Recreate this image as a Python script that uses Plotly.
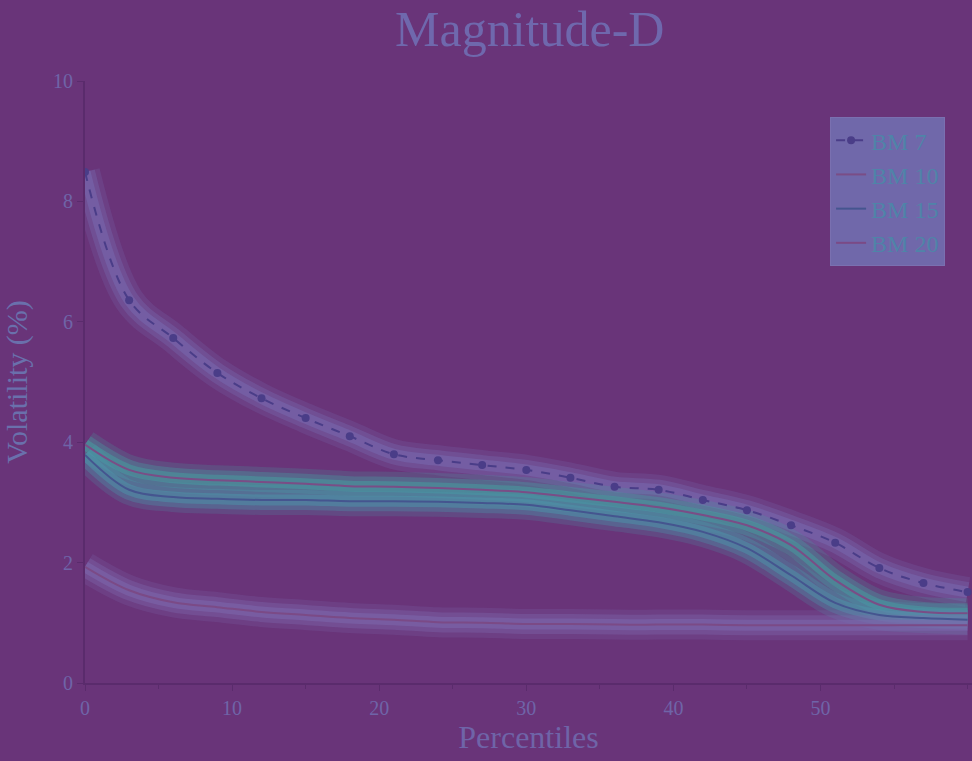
import plotly.graph_objects as go

# ---- data ----
x_vals = [0, 3, 6, 9, 12, 15, 18, 21, 24, 27, 30, 33, 36, 39, 42, 45, 48, 51, 54, 57, 60]
series_names = ["BM 7", "BM 10", "BM 15", "BM 20"]
s1 = [8.49, 6.36, 5.73, 5.15, 4.73, 4.40, 4.10, 3.80, 3.70, 3.62, 3.54, 3.41, 3.26, 3.21, 3.04, 2.87, 2.62, 2.33, 1.91, 1.66, 1.51]
s2 = [3.96, 3.54, 3.41, 3.37, 3.34, 3.31, 3.27, 3.26, 3.24, 3.21, 3.17, 3.09, 3.01, 2.92, 2.79, 2.62, 2.29, 1.71, 1.30, 1.18, 1.16]
s3 = [3.79, 3.21, 3.09, 3.06, 3.04, 3.04, 3.02, 3.02, 3.01, 2.99, 2.96, 2.87, 2.77, 2.67, 2.51, 2.24, 1.79, 1.33, 1.13, 1.08, 1.05]
s4 = [1.93, 1.54, 1.34, 1.26, 1.18, 1.13, 1.08, 1.05, 1.01, 1.00, 0.98, 0.98, 0.97, 0.97, 0.97, 0.96, 0.96, 0.96, 0.96, 0.96, 0.96]
x_ticks = [0, 10, 20, 30, 40, 50]
y_ticks = [0, 2, 4, 6, 8, 10]

BG = "#693479"
halo_cols = ["rgba(120,108,178,{a})", "rgba(70,160,160,{a})", "rgba(75,150,170,{a})", "rgba(125,105,175,{a})"]
core_cols = ["#4a3d88", "#7a4d86", "#45558f", "#7b4a86"]
all_series = [s1, s2, s3, s4]

fig = go.Figure()
# soft halos (no legend)
for ys, hc in zip(all_series, halo_cols):
    for w, a in [(30, 0.22), (20, 0.35), (11, 0.5)]:
        fig.add_trace(go.Scatter(x=x_vals, y=ys, mode="lines", line=dict(color=hc.format(a=a), width=w, shape="spline"),
                                 showlegend=False, hoverinfo="skip"))
# core lines
for i, (ys, name, cc) in enumerate(zip(all_series, series_names, core_cols)):
    if i == 0:
        fig.add_trace(go.Scatter(x=x_vals, y=ys, name=name, mode="lines+markers",
                                 line=dict(color=cc, width=2, dash="dash", shape="spline"),
                                 marker=dict(color=cc, size=8)))
    else:
        fig.add_trace(go.Scatter(x=x_vals, y=ys, name=name, mode="lines",
                                 line=dict(color=cc, width=2, shape="spline")))

axis_font = dict(family="Liberation Serif", size=20, color="#6f64a8")
fig.update_layout(
    width=972, height=761,
    paper_bgcolor=BG, plot_bgcolor=BG,
    margin=dict(l=85, r=0, t=81, b=78, autoexpand=False),
    title=dict(text="Magnitude-D", x=0.545, xanchor="center", y=0.962, yanchor="middle",
               font=dict(family="Liberation Serif", size=50, color="#6f68ad")),
    xaxis=dict(range=[0, 60.3], tickvals=x_ticks, showgrid=False, zeroline=False,
               showline=True, linecolor="#5a2b6c", linewidth=2, ticks="outside", tickcolor="#5a2b6c",
               ticklen=6, minor=dict(ticks="outside", dtick=5, ticklen=4, tickcolor="#5a2b6c"),
               tickfont=axis_font,
               title=dict(text="Percentiles", font=dict(family="Liberation Serif", size=32, color="#6f64a8"), standoff=8)),
    yaxis=dict(range=[0, 10], tickvals=y_ticks, showgrid=False, zeroline=False,
               showline=True, linecolor="#5a2b6c", linewidth=2, ticks="outside", tickcolor="#5a2b6c",
               ticklen=6, tickfont=axis_font,
               title=dict(text="Volatility (%)", font=dict(family="Liberation Serif", size=30, color="#6a70ac"), standoff=18)),
    legend=dict(x=0.84, y=0.94, xanchor="left", yanchor="top",
                bgcolor="#7068aa", bordercolor="#7a70b0", borderwidth=1,
                font=dict(family="Liberation Serif", size=24, color="#4f84a8"),
                itemwidth=30, tracegroupgap=8),
    showlegend=True,
)

fig.write_html("out.html")
